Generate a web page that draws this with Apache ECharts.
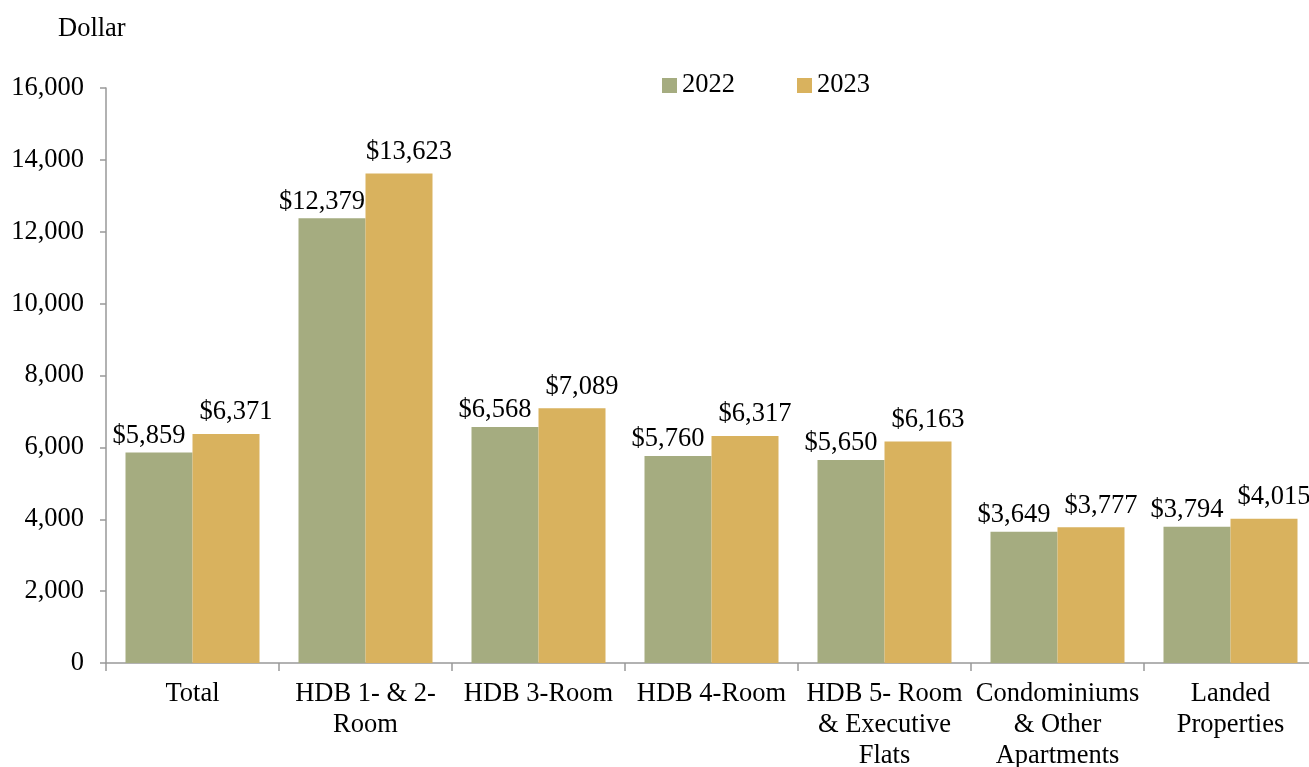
<!DOCTYPE html>
<html>
<head>
<meta charset="utf-8">
<script src="https://cdn.jsdelivr.net/npm/echarts@6/dist/echarts.min.js"></script>
<style>html,body{margin:0;padding:0;background:#fff}#c{width:1309px;height:767px}</style>
</head>
<body>
<div id="c"></div>
<script>
const categories = ["Total", "HDB 1- & 2-\nRoom", "HDB 3-Room", "HDB 4-Room", "HDB 5- Room\n& Executive\nFlats", "Condominiums\n& Other\nApartments", "Landed\nProperties"];
const values2022 = [5859, 12379, 6568, 5760, 5650, 3649, 3794];
const values2023 = [6371, 13623, 7089, 6317, 6163, 3777, 4015];
const seriesNames = ["2022", "2023"];
const yTicks = { min: 0, max: 16000, interval: 2000 };

const FONT = "Liberation Serif";
const FS = 26.5;
const fmt = v => "$" + v.toLocaleString("en-US");
const chart = echarts.init(document.getElementById('c'));
chart.setOption({
  animation: false,
  textStyle: { fontFamily: FONT, color: '#000' },
  grid: { left: 106, right: -8, top: 88, bottom: 104, containLabel: false, outerBoundsMode: 'none' },
  graphic: [{ type: 'text', left: 58, top: 16, style: { text: 'Dollar', font: FS + 'px "Liberation Serif"', fill: '#000' } }],
  legend: {
    data: seriesNames, left: 657, top: 67, itemWidth: 15, itemHeight: 15, itemGap: 62,
    textStyle: { fontFamily: FONT, fontSize: FS, color: '#000' },
    icon: 'rect'
  },
  xAxis: {
    type: 'category', data: categories,
    axisLine: { lineStyle: { color: '#999', width: 1.5 } },
    axisTick: { show: true, length: 8, lineStyle: { color: '#999', width: 1.5 } },
    axisLabel: { fontFamily: FONT, fontSize: FS, color: '#000', margin: 16, lineHeight: 31, interval: 0 }
  },
  yAxis: {
    type: 'value', min: yTicks.min, max: yTicks.max, interval: yTicks.interval,
    splitLine: { show: false },
    axisLine: { show: true, lineStyle: { color: '#999', width: 1.5 } },
    axisTick: { show: true, length: 6, lineStyle: { color: '#999', width: 1.5 } },
    axisLabel: { fontFamily: FONT, fontSize: FS, color: '#000', margin: 22, formatter: v => v.toLocaleString("en-US") }
  },
  series: [
    { name: seriesNames[0], type: 'bar', data: values2022, barWidth: 67, barGap: '0%',
      itemStyle: { color: '#A5AC80' },
      label: { show: true, position: 'top', distance: 3, offset: [-10, 0], fontFamily: FONT, fontSize: FS, color: '#000', formatter: p => fmt(p.value) } },
    { name: seriesNames[1], type: 'bar', data: values2023, barWidth: 67, barGap: '0%',
      itemStyle: { color: '#D9B25E' },
      label: { show: true, position: 'top', distance: 8, offset: [10, 0], fontFamily: FONT, fontSize: FS, color: '#000', formatter: p => fmt(p.value) } }
  ]
});
</script>
</body>
</html>
